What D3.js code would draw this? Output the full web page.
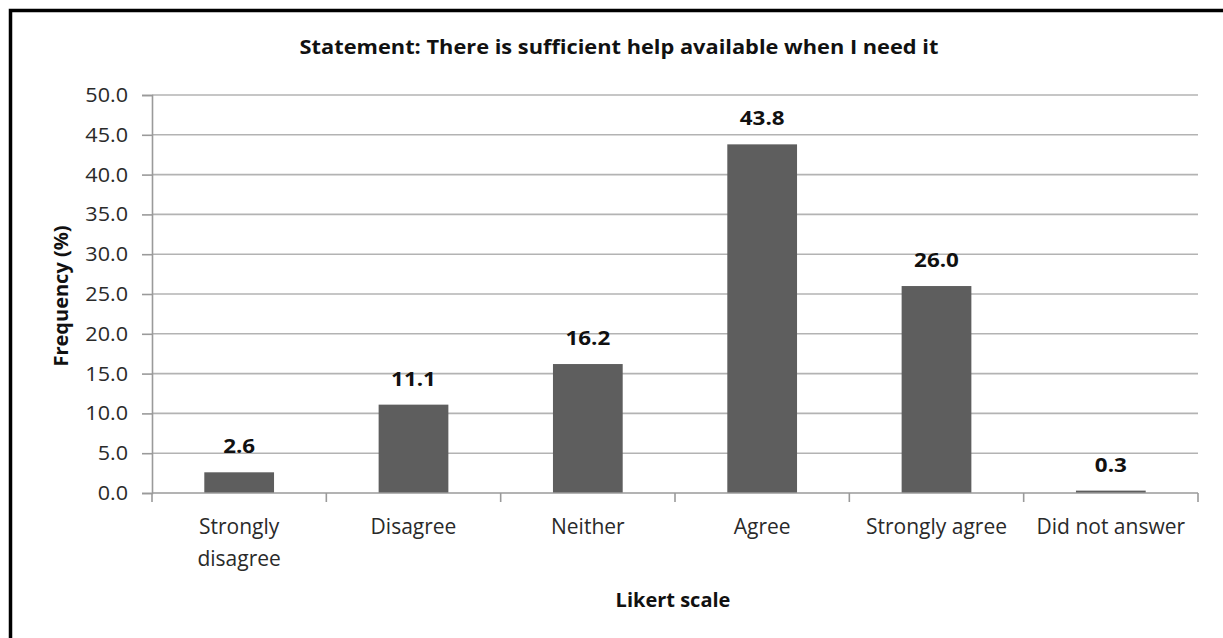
<!DOCTYPE html>
<html>
<head>
<meta charset="utf-8">
<script src="https://cdn.jsdelivr.net/npm/d3@7/dist/d3.min.js"></script>
<style>
  html, body { margin: 0; padding: 0; background: #fff; }
  svg { display: block; font-family: "Open Sans", "Noto Sans", sans-serif; }
</style>
</head>
<body>
<svg id="chart" width="1223" height="638"></svg>
<script>
// Survey responses for "There is sufficient help available when I need it"
const categories = [["Strongly", "disagree"], ["Disagree"], ["Neither"], ["Agree"], ["Strongly agree"], ["Did not answer"]];
const frequencies = [2.6, 11.1, 16.2, 43.8, 26.0, 0.3];
const yTicks = [0, 5, 10, 15, 20, 25, 30, 35, 40, 45, 50];
const titleText = "Statement: There is sufficient help available when I need it";
const xTitle = "Likert scale";
const yTitle = "Frequency (%)";

const svg = d3.select("#chart");
const W = 1223, H = 638;
const plot = { left: 152, right: 1198, top: 95, bottom: 493 };

// outer frame (top and left edges show within the window)
svg.append("rect")
  .attr("x", 10.5).attr("y", 10.5).attr("width", W).attr("height", H)
  .attr("fill", "none").attr("stroke", "#000").attr("stroke-width", 3.5);

const labels = categories.map(c => c.join(" "));
const x = d3.scaleBand().domain(labels)
  .range([plot.left, plot.right]).paddingInner(0.6).paddingOuter(0.3);
const y = d3.scaleLinear().domain([0, 50]).range([plot.bottom, plot.top]);

// horizontal gridlines
svg.append("g").selectAll("line").data(yTicks.filter(t => t > 0)).join("line")
  .attr("x1", plot.left).attr("x2", plot.right)
  .attr("y1", d => y(d)).attr("y2", d => y(d))
  .attr("stroke", "#b3b3b3").attr("stroke-width", 1.6);

// y axis
const yAxis = svg.append("g").attr("transform", `translate(${plot.left},0)`)
  .call(d3.axisLeft(y).tickValues(yTicks).tickFormat(d3.format(".1f")).tickSize(10).tickPadding(14));
yAxis.select(".domain").attr("stroke", "#9a9a9a").attr("stroke-width", 1.6);
yAxis.selectAll(".tick line").attr("stroke", "#9a9a9a").attr("stroke-width", 1.6);
yAxis.selectAll(".tick text").attr("font-size", 20).attr("fill", "#2a2a2a")
  .attr("font-family", "\"Open Sans\", sans-serif")
  .attr("transform", "scale(1.08,1)")
  .attr("x", -24 / 1.08);

// bars
svg.append("g").selectAll("rect").data(frequencies).join("rect")
  .attr("x", (d, i) => x(labels[i]))
  .attr("width", x.bandwidth())
  .attr("y", d => y(d))
  .attr("height", d => y(0) - y(d))
  .attr("fill", "#5e5e5e");

// value labels (slightly widened bold numerals)
svg.append("g").selectAll("text").data(frequencies).join("text")
  .attr("transform", (d, i) =>
    `translate(${x(labels[i]) + x.bandwidth() / 2},${y(d) - 19}) scale(1.12,1)`)
  .attr("text-anchor", "middle")
  .attr("font-size", 20).attr("font-weight", "bold").attr("fill", "#111")
  .text(d => d.toFixed(1));

// x axis baseline with boundary ticks
const xg = svg.append("g");
const edge = i => plot.left + i * (plot.right - plot.left) / categories.length;
xg.append("line")
  .attr("x1", plot.left).attr("x2", plot.right)
  .attr("y1", plot.bottom).attr("y2", plot.bottom)
  .attr("stroke", "#9a9a9a").attr("stroke-width", 1.6);
xg.selectAll("line.tk").data(d3.range(categories.length + 1)).join("line")
  .attr("class", "tk")
  .attr("x1", edge).attr("x2", edge)
  .attr("y1", plot.bottom).attr("y2", plot.bottom + 9)
  .attr("stroke", "#9a9a9a").attr("stroke-width", 1.6);

// category labels
const catText = xg.selectAll("text").data(categories).join("text")
  .attr("x", (d, i) => x(labels[i]) + x.bandwidth() / 2)
  .attr("y", 534)
  .attr("text-anchor", "middle")
  .attr("font-size", 21).attr("fill", "#2a2a2a");
catText.selectAll("tspan").data(d => d).join("tspan")
  .attr("x", function () { return d3.select(this.parentNode).attr("x"); })
  .attr("dy", (d, i) => i === 0 ? 0 : 32)
  .text(d => d);

// titles
svg.append("text").attr("transform", "translate(619,54) scale(1.09,1)").attr("text-anchor", "middle")
  .attr("font-size", 20).attr("font-weight", "bold").attr("fill", "#111").text(titleText);
svg.append("text").attr("x", 673).attr("y", 607).attr("text-anchor", "middle")
  .attr("font-size", 20).attr("font-weight", "bold").attr("fill", "#111").text(xTitle);
svg.append("text").attr("transform", "translate(68,296) rotate(-90)").attr("text-anchor", "middle")
  .attr("font-size", 20).attr("font-weight", "bold").attr("fill", "#111").text(yTitle);
</script>
</body>
</html>
